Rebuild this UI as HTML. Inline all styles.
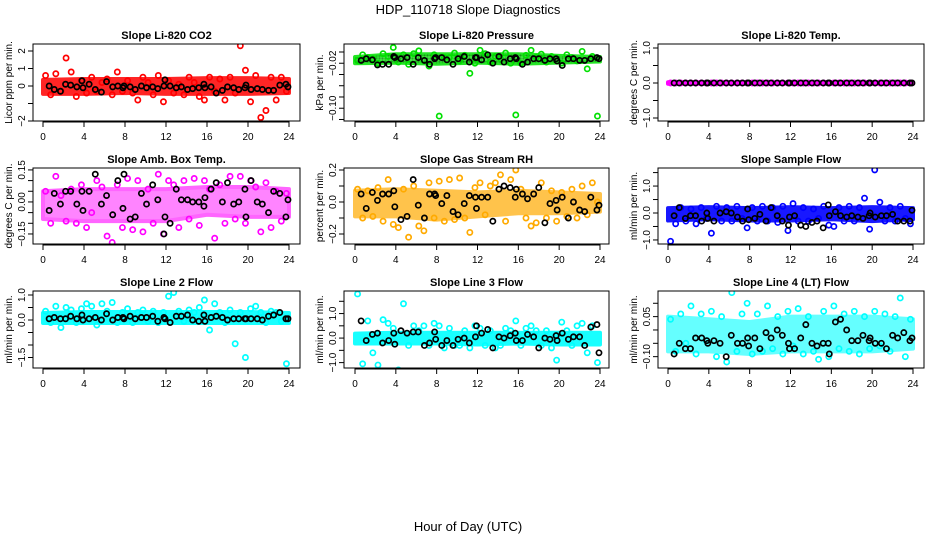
<!DOCTYPE html>
<html><head><meta charset="utf-8"><style>
html,body{margin:0;padding:0;background:#fff}
svg{display:block;font-family:"Liberation Sans",sans-serif}
</style></head><body>
<svg id="chart" width="936" height="540" viewBox="0 0 936 540">
<defs>
<pattern id="dots" width="3" height="3" patternUnits="userSpaceOnUse"><rect width="3" height="3" fill="#fff"/><circle cx="1.5" cy="1.5" r="1.1" fill="#000"/></pattern>
</defs>
<text x="468" y="14" text-anchor="middle" font-size="13">HDP_110718  Slope Diagnostics</text>
<text x="468" y="531" text-anchor="middle" font-size="13">Hour of Day (UTC)</text>
</svg>
<script>
const hoursC=[0.25,0.75,1.25,1.75,2.25,2.75,3.25,3.75,4.25,4.75,5.25,5.75,6.25,6.75,7.25,7.75,8.25,8.75,9.25,9.75,10.25,10.75,11.25,11.75,12.25,12.75,13.25,13.75,14.25,14.75,15.25,15.75,16.25,16.75,17.25,17.75,18.25,18.75,19.25,19.75,20.25,20.75,21.25,21.75,22.25,22.75,23.25,23.75];
const hoursK=[0.6,1.1,1.7,2.2,2.7,3.3,3.8,3.9,4.5,5.1,5.7,6.2,6.8,7.3,7.8,7.9,8.5,9.0,9.6,10.1,10.7,11.2,11.8,11.9,12.4,13.0,13.5,14.1,14.6,15.2,15.7,15.8,16.4,16.9,17.5,18.0,18.6,19.1,19.7,19.8,20.3,20.9,21.4,22.0,22.5,23.1,23.7,23.9];
const bandHours=[0,4,8,12,16,20,24];
const xTicks=[0,4,8,12,16,20,24];

const co2Vals=[0.6,-0.5,0.7,-0.3,1.6,0.8,-0.6,0.3,-0.4,0.5,-0.3,0.2,0.4,-0.5,0.8,-0.3,0.3,-0.4,-0.8,0.5,0.2,-0.5,0.6,-0.9,0.3,-0.4,0.1,-0.5,0.5,0.2,-0.6,-0.8,0.5,-0.3,0.4,-0.8,0.5,-0.4,2.3,0.9,-0.9,0.6,-1.8,-1.4,0.5,-0.8,0.5,-0.3];
const co2Black=[0.0,-0.2,-0.3,0.1,0.05,-0.05,0.3,-0.1,0.1,-0.2,-0.35,0.25,-0.05,0.0,-0.1,0.0,-0.05,-0.2,0.0,-0.1,-0.05,-0.15,0.0,0.35,0.0,-0.1,-0.05,-0.2,-0.15,-0.1,0.1,-0.1,-0.05,-0.4,-0.25,-0.05,-0.1,-0.2,-0.1,0.05,-0.2,-0.15,-0.2,-0.25,-0.25,0.05,0.1,-0.05];
const co2Lo=[-0.45,-0.45,-0.4,-0.45,-0.45,-0.45,-0.4];
const co2Hi=[0.35,0.4,0.4,0.4,0.45,0.45,0.4];

const presVals=[-0.015,-0.005,-0.01,-0.012,-0.02,-0.003,-0.008,0.008,-0.018,-0.005,-0.022,-0.003,0.002,-0.015,-0.025,-0.005,-0.114,-0.01,-0.01,-0.002,-0.016,-0.006,-0.038,-0.02,0.003,-0.003,-0.018,-0.008,-0.012,-0.002,-0.02,-0.112,-0.02,-0.006,0.003,-0.01,-0.004,-0.018,-0.008,-0.012,-0.02,-0.005,-0.01,-0.016,0.001,-0.03,-0.008,-0.114];
const presBlack=[-0.015,-0.012,-0.014,-0.023,-0.022,-0.022,-0.008,-0.01,-0.012,-0.01,-0.022,-0.01,-0.015,-0.022,-0.012,-0.01,-0.01,-0.014,-0.022,-0.012,-0.008,-0.018,-0.01,-0.01,-0.014,-0.005,-0.02,-0.008,-0.018,-0.012,-0.01,-0.012,-0.022,-0.018,-0.012,-0.012,-0.015,-0.012,-0.012,-0.016,-0.024,-0.012,-0.012,-0.015,-0.015,-0.012,-0.01,-0.012];
const presLo=[-0.02,-0.019,-0.021,-0.019,-0.021,-0.019,-0.017];
const presHi=[-0.009,-0.004,-0.004,-0.004,-0.004,-0.007,-0.009];

const tempVals=[0,0,0,0,0,0,0,0,0,0,0,0,0,0,0,0,0,0,0,0,0,0,0,0,0,0,0,0,0,0,0,0,0,0,0,0,0,0,0,0,0,0,0,0,0,0,0,0];
const tempBlack=[0,0,0,0,0,0,0,0,0,0,0,0,0,0,0,0,0,0,0,0,0,0,0,0,0,0,0,0,0,0,0,0,0,0,0,0,0,0,0,0,0,0,0,0,0,0,0,0];
const tempLo=[-0.02,-0.02,-0.02,-0.02,-0.02,-0.02,-0.02];
const tempHi=[0.02,0.02,0.02,0.02,0.02,0.02,0.02];

const ambVals=[0.05,-0.1,0.12,0.03,-0.09,0.06,-0.1,0.08,-0.12,-0.05,0.1,0.07,-0.16,-0.19,0.08,-0.12,0.11,-0.13,0.1,-0.14,0.06,-0.1,0.13,-0.15,0.1,0.08,-0.12,0.1,-0.08,0.11,-0.11,0.1,0.06,-0.17,0.08,-0.1,0.12,-0.08,0.12,-0.1,0.1,0.07,-0.14,0.09,-0.12,0.05,-0.09,0.04];
const ambBlack=[-0.04,0.04,-0.01,0.05,0.05,-0.01,0.05,-0.04,0.05,0.13,-0.01,0.03,-0.06,0.1,-0.03,0.13,-0.08,-0.07,0.04,-0.01,0.08,0.01,-0.15,-0.07,-0.1,0.06,0.01,0.01,0.0,0.0,-0.02,0.02,0.06,0.09,0.0,0.09,-0.01,0.0,0.06,-0.07,0.1,0.0,-0.01,-0.05,0.05,0.04,-0.07,0.01];
const ambLo=[-0.08,-0.09,-0.09,-0.09,-0.06,-0.07,-0.07];
const ambHi=[0.05,0.06,0.06,0.06,0.07,0.07,0.06];

const rhVals=[0.08,-0.1,0.07,-0.09,0.09,-0.12,0.14,-0.14,-0.16,0.08,-0.22,0.1,-0.15,-0.18,0.12,-0.1,0.13,-0.12,0.14,-0.11,0.15,-0.1,-0.19,0.09,0.12,-0.08,0.1,0.12,0.17,-0.12,0.14,0.2,0.08,-0.1,-0.15,-0.13,0.12,-0.1,0.07,-0.12,0.06,-0.09,0.08,-0.1,0.1,-0.08,0.12,0.0];
const rhBlack=[0.05,-0.04,0.06,0.01,0.05,0.05,0.07,-0.03,-0.11,-0.09,0.14,-0.02,-0.1,0.05,0.05,0.04,-0.01,0.04,-0.06,-0.08,-0.01,0.04,0.03,-0.04,0.03,0.03,-0.12,0.08,0.1,0.09,0.03,0.08,0.05,0.02,0.05,0.09,-0.13,-0.01,0.01,-0.05,0.03,-0.1,0.0,-0.05,-0.06,0.03,-0.05,-0.02];
const rhLo=[-0.09,-0.09,-0.11,-0.09,-0.07,-0.07,-0.06];
const rhHi=[0.07,0.08,0.07,0.06,0.07,0.06,0.05];

const sfVals=[-1.05,-0.4,0.2,-0.3,0.15,-0.4,0.2,-0.2,-0.75,0.25,-0.3,0.2,-0.3,0.25,-0.2,-0.55,0.2,-0.3,0.25,-0.3,0.2,-0.35,0.25,-0.65,0.35,-0.3,0.2,-0.3,0.15,-0.2,0.25,-0.45,-0.5,0.2,-0.3,0.25,-0.3,0.2,0.55,-0.6,1.6,0.4,-0.3,0.2,-0.3,0.25,-0.2,-0.4];
const sfBlack=[-0.1,0.2,-0.2,-0.1,-0.1,-0.3,0.0,-0.2,-0.3,0.0,0.05,0.0,-0.15,-0.3,0.15,-0.25,-0.2,-0.05,-0.3,0.2,-0.1,-0.3,-0.45,-0.15,-0.1,-0.45,-0.5,-0.35,-0.3,-0.55,0.3,-0.1,0.05,-0.1,-0.15,-0.1,-0.15,-0.2,-0.1,0.0,-0.15,-0.1,-0.1,-0.05,-0.3,-0.3,-0.3,0.1];
const sfLo=[-0.28,-0.23,-0.28,-0.28,-0.23,-0.3,-0.23];
const sfHi=[0.18,0.22,0.18,0.22,0.18,0.22,0.18];

const l2Vals=[0.35,-0.1,0.55,-0.3,0.5,0.4,-0.1,0.45,0.65,0.55,-0.2,0.65,0.35,0.7,-0.1,0.3,0.45,-0.1,0.3,0.4,-0.05,0.35,-0.1,0.3,0.95,1.1,0.35,-0.05,0.4,0.3,0.5,0.8,-0.4,0.65,0.3,-0.1,0.4,-0.95,0.3,-1.5,0.45,0.55,0.3,-0.1,0.35,0.3,-0.05,-1.75];
const l2Black=[0.05,0.1,0.05,0.05,0.15,0.05,0.2,0.0,0.05,0.1,0.0,0.25,0.0,0.1,0.1,0.05,0.15,0.05,0.1,0.1,0.15,-0.05,0.1,0.05,-0.1,0.15,0.15,0.2,0.0,-0.05,0.2,-0.05,0.1,0.15,0.1,0.0,0.05,0.05,0.05,0.05,0.05,0.05,0.0,0.15,0.2,0.3,0.05,0.05];
const l2Lo=[-0.12,-0.12,-0.12,-0.12,-0.12,-0.12,-0.12];
const l2Hi=[0.28,0.32,0.32,0.32,0.32,0.32,0.28];

const l3Vals=[1.8,-1.05,0.7,-0.6,-1.1,0.75,0.6,0.4,-1.3,1.4,-0.3,0.5,0.3,0.5,-0.3,0.6,0.5,-0.4,0.4,-0.3,-0.3,0.3,-0.4,0.5,0.4,-0.3,0.3,-0.4,-0.3,0.4,0.3,0.7,-0.3,0.4,0.5,0.3,-0.3,0.3,-0.4,-0.9,0.65,0.3,-0.3,0.5,0.6,-0.6,0.5,-1.0];
const l3Black=[0.7,-0.1,0.15,0.2,-0.2,-0.1,0.2,-0.25,0.3,0.2,0.25,0.25,-0.3,-0.2,0.25,-0.05,-0.3,-0.1,-0.3,-0.05,0.0,-0.2,0.05,0.5,0.2,0.35,-0.4,0.05,0.0,0.1,0.2,-0.1,-0.1,0.15,0.05,-0.4,0.0,-0.05,0.1,-0.1,0.2,-0.05,0.05,0.05,-0.3,0.45,0.55,-0.6];
const l3Lo=[-0.22,-0.22,-0.22,-0.26,-0.22,-0.26,-0.26];
const l3Hi=[0.18,0.22,0.22,0.22,0.22,0.22,0.22];

const l4Vals=[0.04,-0.08,0.06,-0.05,0.09,-0.09,0.06,-0.04,0.07,-0.1,0.05,-0.12,0.14,-0.08,0.06,0.1,-0.09,0.06,-0.08,0.09,-0.07,0.05,-0.09,0.07,-0.06,0.08,-0.09,0.05,-0.08,-0.11,0.07,-0.1,0.09,-0.07,0.06,-0.08,0.07,-0.09,0.05,-0.07,0.07,-0.06,0.06,-0.08,0.05,0.12,-0.1,0.04];
const l4Black=[-0.09,-0.05,-0.07,-0.07,-0.03,-0.03,-0.04,-0.05,-0.04,-0.05,-0.1,-0.02,-0.05,-0.05,-0.03,-0.06,-0.03,-0.07,-0.01,-0.03,0.0,-0.02,-0.05,-0.07,-0.07,-0.03,0.02,-0.05,-0.06,-0.05,-0.05,-0.09,0.03,0.04,0.0,-0.04,-0.04,-0.02,-0.04,-0.03,-0.05,-0.05,-0.07,-0.02,-0.03,-0.01,-0.04,-0.03];
const l4Lo=[-0.08,-0.08,-0.09,-0.08,-0.08,-0.08,-0.07];
const l4Hi=[0.05,0.04,0.03,0.05,0.05,0.05,0.04];

const co2Ticks=[-2,-1,0,1,2], co2Labels=["−2","","0","1","2"];
const presTicks=[0,-0.02,-0.04,-0.06,-0.08,-0.1,-0.12], presLabels=["","−0.02","","","","−0.10",""];
const tempTicks=[-1,-0.5,0,0.5,1], tempLabels=["−1.0","","0.0","","1.0"];
const ambTicks=[-0.15,-0.1,-0.05,0,0.05,0.1,0.15], ambLabels=["−0.15","","","0.00","","","0.15"];
const rhTicks=[-0.2,-0.1,0,0.1,0.2], rhLabels=["−0.2","","0.0","","0.2"];
const sfTicks=[-1,-0.5,0,0.5,1,1.5], sfLabels=["−1.0","","0.0","","1.0",""];
const l2Ticks=[-1.5,-1,-0.5,0,0.5,1], l2Labels=["−1.5","","","0.0","","1.0"];
const l3Ticks=[-1,-0.5,0,0.5,1,1.5], l3Labels=["−1.0","","0.0","","1.0",""];
const l4Ticks=[-0.1,-0.05,0,0.05,0.1], l4Labels=["−0.10","","","0.05",""];

const svg=document.getElementById('chart');
const NS='http://www.w3.org/2000/svg';
function mk(tag,attrs,parent){const e=document.createElementNS(NS,tag);for(const k in attrs)e.setAttribute(k,attrs[k]);(parent||svg).appendChild(e);return e;}

const cols=[{l:33,r:300,x0:43,x24:289},{l:344,r:609,x0:355,x24:600},{l:658,r:924,x0:668,x24:913}];
const rows=[{t:44,b:121},{t:168,b:244},{t:291,b:368}];

const panels=[
 {name:'co2',title:'Slope Li-820 CO2',ylab:'Licor ppm per min.',c:0,r:0,ymin:-2,ymax:2.4,vals:co2Vals,blk:co2Black,lo:co2Lo,hi:co2Hi,ticks:co2Ticks,labels:co2Labels,col:'#ff0000',band:'#ff0000',op:0.85,dots:0},
 {name:'pressure',title:'Slope Li-820 Pressure',ylab:'kPa per min.',c:1,r:0,ymin:-0.1227,ymax:0.0142,vals:presVals,blk:presBlack,lo:presLo,hi:presHi,ticks:presTicks,labels:presLabels,col:'#00e000',band:'#22ee22',op:0.85,dots:0.35},
 {name:'li820-temp',title:'Slope Li-820 Temp.',ylab:'degrees C per min.',c:2,r:0,ymin:-1.086,ymax:1.114,vals:tempVals,blk:tempBlack,lo:tempLo,hi:tempHi,ticks:tempTicks,labels:tempLabels,col:'#ff00ff',band:'#ff00ff',op:1,dots:0},
 {name:'amb-box-temp',title:'Slope Amb. Box Temp.',ylab:'degrees C per min.',c:0,r:1,ymin:-0.197,ymax:0.159,vals:ambVals,blk:ambBlack,lo:ambLo,hi:ambHi,ticks:ambTicks,labels:ambLabels,col:'#ff00ff',band:'#ff33ff',op:0.6,dots:0},
 {name:'gas-stream-rh',title:'Slope Gas Stream RH',ylab:'percent per min.',c:1,r:1,ymin:-0.2625,ymax:0.2125,vals:rhVals,blk:rhBlack,lo:rhLo,hi:rhHi,ticks:rhTicks,labels:rhLabels,col:'#ffaa00',band:'#ffaa00',op:0.7,dots:0},
 {name:'sample-flow',title:'Slope Sample Flow',ylab:'ml/min per min.',c:2,r:1,ymin:-1.15,ymax:1.67,vals:sfVals,blk:sfBlack,lo:sfLo,hi:sfHi,ticks:sfTicks,labels:sfLabels,col:'#0000ff',band:'#0000ff',op:0.9,dots:0},
 {name:'line2-flow',title:'Slope Line 2 Flow',ylab:'ml/min per min.',c:0,r:2,ymin:-1.92,ymax:1.16,vals:l2Vals,blk:l2Black,lo:l2Lo,hi:l2Hi,ticks:l2Ticks,labels:l2Labels,col:'#00ffff',band:'#00ffff',op:0.9,dots:0},
 {name:'line3-flow',title:'Slope Line 3 Flow',ylab:'ml/min per min.',c:1,r:2,ymin:-1.22,ymax:1.92,vals:l3Vals,blk:l3Black,lo:l3Lo,hi:l3Hi,ticks:l3Ticks,labels:l3Labels,col:'#00ffff',band:'#00ffff',op:0.9,dots:0},
 {name:'line4-flow',title:'Slope Line 4 (LT) Flow',ylab:'ml/min per min.',c:2,r:2,ymin:-0.1425,ymax:0.146,vals:l4Vals,blk:l4Black,lo:l4Lo,hi:l4Hi,ticks:l4Ticks,labels:l4Labels,col:'#00ffff',band:'#00ffff',op:0.6,dots:0}
];

panels.forEach(p=>{
 const C=cols[p.c],R=rows[p.r];
 const xs=h=>C.x0+(C.x24-C.x0)*h/24;
 const ys=v=>R.b-(v-p.ymin)/(p.ymax-p.ymin)*(R.b-R.t);
 const g=mk('g',{});
 
 
 const cp=mk('clipPath',{id:'clip-'+p.name},g);
 mk('rect',{x:C.l,y:R.t,width:C.r-C.l,height:R.b-R.t},cp);
 const t=mk('text',{x:(C.l+C.r)/2,y:R.t-5,'text-anchor':'middle','font-size':'11','font-weight':'bold'},g);
 t.textContent=p.title;
 
 
 const yl=mk('text',{x:0,y:0,'text-anchor':'middle','font-size':'10',transform:`translate(${C.l-21},${(R.t+R.b)/2}) rotate(-90)`},g);
 yl.textContent=p.ylab;
 
 
 const pg=mk('g',{'clip-path':`url(#clip-${p.name})`},g);
 let pts=bandHours.map((h,i)=>xs(h)+','+ys(p.hi[i]));
 pts=pts.concat(bandHours.slice().reverse().map((h,i)=>xs(h)+','+ys(p.lo[p.lo.length-1-i])));
 const band=mk('polygon',{points:pts.join(' '),fill:p.band,stroke:p.col,'stroke-width':'4','stroke-linejoin':'round',opacity:p.op},pg);
 
 
 if(p.dots){
  mk('polygon',{points:pts.join(' '),fill:'url(#dots)',opacity:p.dots,style:'mix-blend-mode:multiply'},pg);
 }
 p.vals.forEach((v,i)=>{
  const c=mk('circle',{cx:xs(hoursC[i]),cy:ys(v),r:2.6,fill:'none',stroke:p.col,'stroke-width':'1.7'},pg);
  
  
 });
 p.blk.forEach((v,i)=>{
  const c=mk('circle',{cx:xs(hoursK[i]),cy:ys(v),r:2.6,fill:'none',stroke:'#000','stroke-width':'1.7'},pg);
  
  
 });
 const box=mk('rect',{x:C.l,y:R.t,width:C.r-C.l,height:R.b-R.t,fill:'none',stroke:'#000','stroke-width':'1'},g);
 
 
 mk('line',{x1:xs(0),x2:xs(24),y1:R.b+1,y2:R.b+1,stroke:'#000'},g);
 xTicks.forEach(h=>{
  mk('line',{x1:xs(h),x2:xs(h),y1:R.b,y2:R.b+6,stroke:'#000'},g);
  const tl=mk('text',{x:xs(h),y:R.b+19,'text-anchor':'middle','font-size':'10'},g);
  tl.textContent=h;
  
  
 });
 p.ticks.forEach((v,i)=>{
  const y=ys(v);
  mk('line',{x1:C.l-5,x2:C.l,y1:y,y2:y,stroke:'#000'},g);
  if(p.labels[i]){
   const tl=mk('text',{x:0,y:0,'text-anchor':'middle','font-size':'10',transform:`translate(${C.l-8},${y}) rotate(-90)`},g);
   tl.textContent=p.labels[i];
   
   
  }
 });
});
</script>
</body></html>
